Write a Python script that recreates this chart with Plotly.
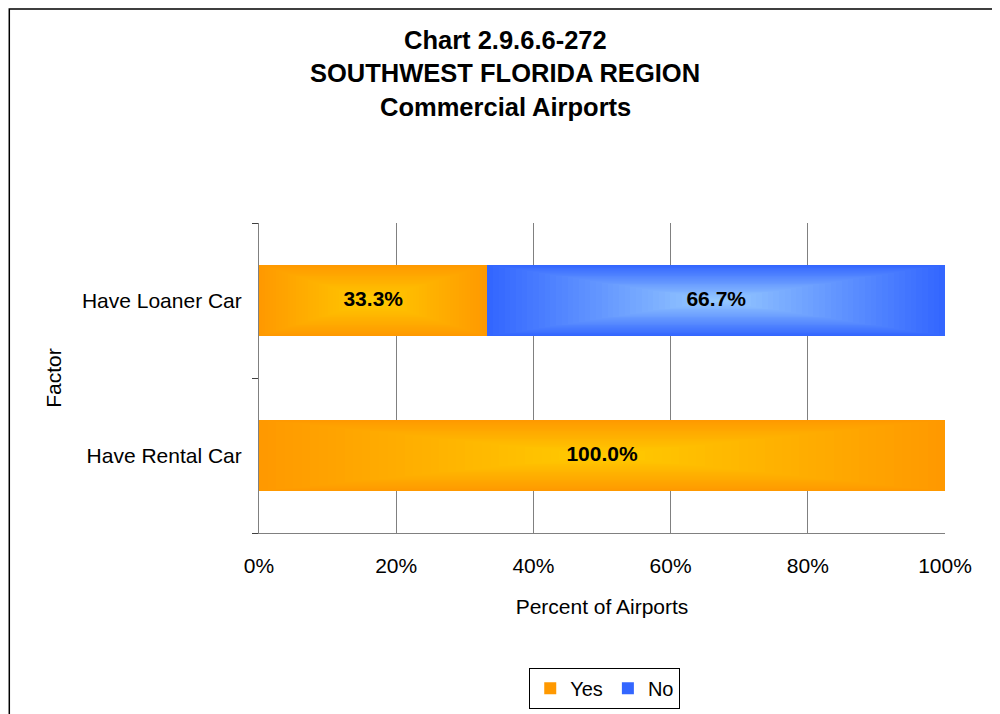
import plotly.graph_objects as go

# ---- data ----
categories = ["Have Rental Car", "Have Loaner Car"]
yes_values = [100.0, 33.3]
no_values = [0.0, 66.7]
x_tick_vals = [0, 20, 40, 60, 80, 100]
x_tick_text = ["0%", "20%", "40%", "60%", "80%", "100%"]
title_lines = ["Chart 2.9.6.6-272", "SOUTHWEST FLORIDA REGION", "Commercial Airports"]

FONT = "Liberation Sans, Arial, sans-serif"
BAR_W = 0.46
N_LAYERS = 40

series = [
    ("Yes", yes_values, [0.0] * len(yes_values), (255, 153, 0), (255, 204, 0)),
    ("No", no_values, yes_values, (51, 102, 255), (153, 204, 255)),
]


def lerp(c1, c2, t):
    return "rgb(%d,%d,%d)" % tuple(round(a + (b - a) * t) for a, b in zip(c1, c2))


fig = go.Figure()

label_x, label_y, label_t = [], [], []
for name, vals, bases, edge, center in series:
    for k in range(N_LAYERS):
        t = k / N_LAYERS
        xs, bs, ys = [], [], []
        for cat, v, b in zip(categories, vals, bases):
            if v <= 0:
                continue
            xs.append(v * (1 - t))
            bs.append(b + v * t / 2)
            ys.append(cat)
        fig.add_trace(go.Bar(
            x=xs, y=ys, base=bs, orientation="h",
            width=BAR_W * (1 - t),
            marker=dict(color=lerp(edge, center, t), line=dict(width=0)),
            name=name, legendgroup=name, showlegend=(k == 0),
            hoverinfo="skip",
        ))
    for cat, v, b in zip(categories, vals, bases):
        if v > 0:
            label_x.append(b + v / 2)
            label_y.append(cat)
            label_t.append("%.1f%%" % v)

fig.add_trace(go.Scatter(
    x=label_x, y=label_y, text=label_t, mode="text",
    textfont=dict(family=FONT, size=21, color="black", weight="bold"),
    showlegend=False, hoverinfo="skip",
))

annotations = []
for line, yp in zip(title_lines, [1.590, 1.484, 1.374]):
    annotations.append(dict(
        text="<b>%s</b>" % line, x=0.359, y=yp, xref="paper", yref="paper",
        xanchor="center", yanchor="middle", showarrow=False,
        font=dict(family=FONT, size=25.5, color="black"),
    ))

fig.update_layout(
    width=1000, height=714,
    margin=dict(l=251, r=63, t=215, b=189),
    paper_bgcolor="white", plot_bgcolor="white",
    barmode="overlay", bargap=0,
    font=dict(family=FONT, size=21, color="black"),
    annotations=annotations,
    showlegend=True,
    legend=dict(
        orientation="h", x=0.504, xanchor="center", y=-0.435, yanchor="top",
        bordercolor="black", borderwidth=1, bgcolor="white",
        font=dict(family=FONT, size=20, color="black"),
        traceorder="normal", itemwidth=30, tracegroupgap=0,
    ),
    shapes=[dict(
        type="rect", xref="paper", yref="paper",
        x0=-0.364, x1=1.077, y0=-0.75, y1=1.690,
        line=dict(color="black", width=1.5), fillcolor="rgba(0,0,0,0)",
        layer="below",
    )],
)

fig.update_xaxes(
    range=[0, 100], tickvals=x_tick_vals, ticktext=x_tick_text,
    showgrid=True, gridcolor="#808080", gridwidth=1,
    showline=True, linecolor="#808080", linewidth=1,
    ticks="outside", ticklen=14, tickcolor="rgba(0,0,0,0)",
    tickfont=dict(family=FONT, size=21),
    title=dict(text="Percent of Airports", font=dict(family=FONT, size=21), standoff=23),
    zeroline=False, fixedrange=True,
)
fig.update_yaxes(
    type="category", categoryorder="array", categoryarray=categories,
    range=[-0.5, 1.5],
    showgrid=False, showline=True, linecolor="#808080", linewidth=1,
    ticks="outside", ticklen=6, tickcolor="#404040", tickson="boundaries",
    ticklabelstandoff=12,
    tickfont=dict(family=FONT, size=21),
    title=dict(text="Factor", font=dict(family=FONT, size=21), standoff=14),
    zeroline=False, fixedrange=True,
)

fig.write_html("out.html")
